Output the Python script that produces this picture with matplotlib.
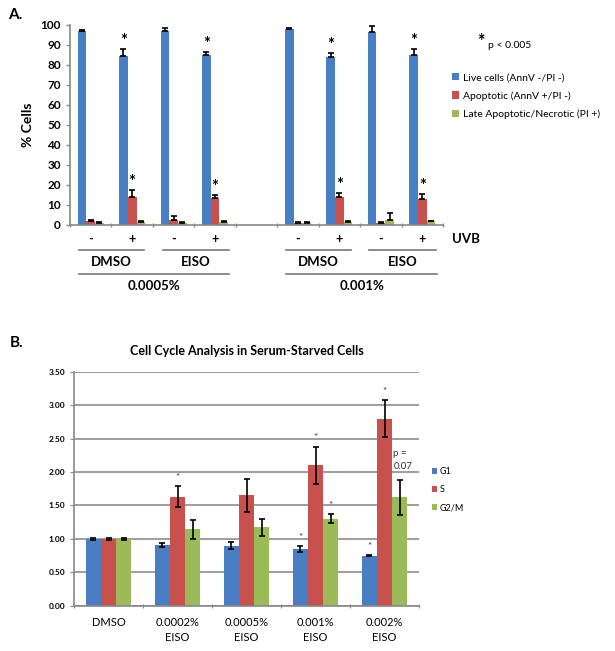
import numpy as np
import matplotlib
matplotlib.use("Agg")
import matplotlib.pyplot as plt

plt.rcParams['font.family'] = ['Lato', 'DejaVu Sans']

# ---------------- panel A data ----------------
uvb = ['-', '+', '-', '+', '', '-', '+', '-', '+']
live = [97.0, 84.5, 97.0, 85.0, np.nan, 98.0, 84.0, 96.3, 85.0]
live_err = [0.5, 3.5, 1.5, 1.5, np.nan, 0.3, 2.0, 3.0, 3.2]
apop = [2.0, 14.0, 2.3, 13.5, np.nan, 1.2, 14.2, 1.0, 12.8]
apop_err = [0.7, 3.5, 2.0, 1.5, np.nan, 0.3, 2.0, 0.3, 2.7]
necro = [1.2, 1.5, 1.2, 1.5, np.nan, 1.0, 1.5, 2.5, 1.8]
necro_err = [0.3, 0.3, 0.3, 0.3, np.nan, 0.5, 0.3, 3.5, 0.3]
star_live = [1, 3, 6, 8]
star_apop = [1, 3, 6, 8]
treat_labels = ['DMSO', 'EISO', 'DMSO', 'EISO']
conc_labels = ['0.0005%', '0.001%']

# ---------------- panel B data ----------------
groups_b = ['DMSO', '0.0002%\nEISO', '0.0005%\nEISO', '0.001%\nEISO', '0.002%\nEISO']
g1 = [1.00, 0.91, 0.90, 0.85, 0.75]
g1_err = [0.01, 0.03, 0.05, 0.04, 0.01]
s_ph = [1.00, 1.63, 1.65, 2.10, 2.80]
s_err = [0.01, 0.16, 0.25, 0.28, 0.27]
g2m = [1.00, 1.14, 1.17, 1.30, 1.62]
g2m_err = [0.01, 0.14, 0.12, 0.07, 0.26]

blue = '#4A7EC4'
red = '#C8504D'
green = '#9BBB59'

fig = plt.figure(figsize=(6.15, 6.51), dpi=100)
W, H = 615.0, 651.0

def px_axes(x0, y_top, x1, y_bot):
    return fig.add_axes([x0 / W, 1 - y_bot / H, (x1 - x0) / W, (y_bot - y_top) / H])

# ===================== Panel A =====================
axA = px_axes(70, 25, 443, 225)
x = np.arange(len(uvb)) + 0.5
bw = 0.21
ek = dict(ecolor='black', elinewidth=1.2, capsize=2.5, capthick=1.2)
zero = np.zeros(len(uvb))
axA.bar(x - bw, live, bw, color=blue, yerr=[zero, live_err], error_kw=ek, label='Live cells (AnnV -/PI -)')
axA.bar(x, apop, bw, color=red, yerr=[zero, apop_err], error_kw=ek, label='Apoptotic (AnnV +/PI -)')
axA.bar(x + bw, necro, bw, color=green, yerr=[zero, necro_err], error_kw=ek, label='Late Apoptotic/Necrotic (PI +)')
for i in star_live:
    axA.text(x[i] - bw, live[i] + live_err[i] + 4, '*', ha='center', va='center', fontsize=12, fontweight='bold')
for i in star_apop:
    axA.text(x[i], apop[i] + apop_err[i] + 4, '*', ha='center', va='center', fontsize=12, fontweight='bold')

axA.set_xlim(0, len(uvb))
axA.set_ylim(0, 100)
axA.set_yticks(np.arange(0, 101, 10))
axA.set_xticks(np.arange(0, len(uvb) + 1))
axA.set_xticklabels([])
axA.tick_params(axis='y', labelsize=8.5, length=3, color='#888888', width=1)
axA.tick_params(axis='x', length=3, color='#888888', width=1, direction='inout')
for lab in axA.get_yticklabels():
    lab.set_fontweight('bold')
for sp in ['top', 'right']:
    axA.spines[sp].set_visible(False)
for sp in ['left', 'bottom']:
    axA.spines[sp].set_color('#888888')
    axA.spines[sp].set_linewidth(1.2)
axA.set_ylabel('% Cells', fontsize=10, fontweight='bold', labelpad=5)

tr = axA.get_xaxis_transform()
for xi, lab in zip(x, uvb):
    axA.text(xi, -0.07, lab, transform=tr, ha='center', va='center', fontsize=9, fontweight='bold')
axA.text(9.55, -0.07, 'UVB', transform=tr, ha='center', va='center', fontsize=9.5, fontweight='bold')

treat_spans = [(0.22, 1.79), (2.25, 3.84), (5.22, 6.78), (7.22, 8.82)]
for (a, b), lab in zip(treat_spans, treat_labels):
    axA.plot([a, b], [-0.125, -0.125], transform=tr, color='#777777', lw=1.2, clip_on=False)
    axA.text((a + b) / 2, -0.185, lab, transform=tr, ha='center', va='center', fontsize=9.5, fontweight='bold')
conc_spans = [(0.22, 3.84), (5.22, 8.86)]
for (a, b), lab in zip(conc_spans, conc_labels):
    axA.plot([a, b], [-0.245, -0.245], transform=tr, color='#777777', lw=1.2, clip_on=False)
    axA.text((a + b) / 2, -0.305, lab, transform=tr, ha='center', va='center', fontsize=9.5, fontweight='bold')

fig.text(8 / W, 1 - 15 / H, 'A.', fontsize=11, fontweight='bold', va='center')
fig.text(477 / W, 1 - 41 / H, '*', fontsize=13, fontweight='bold', va='center')
fig.text(488 / W, 1 - 45 / H, 'p < 0.005', fontsize=7.5, va='center')
axA.legend(loc='upper left', bbox_to_anchor=(452 / W, 1 - 73 / H), bbox_transform=fig.transFigure,
           frameon=False, fontsize=7.5, handlelength=0.7, handleheight=0.7, handletextpad=0.4,
           labelspacing=0.85, borderaxespad=0, borderpad=0)

# ===================== Panel B =====================
axB = px_axes(74, 371.7, 419, 605.7)
xb = np.arange(len(groups_b)) + 0.5
bwb = 0.22
ekb = dict(ecolor='black', elinewidth=1.2, capsize=2.5, capthick=1.2)
axB.bar(xb - bwb, g1, bwb, color=blue, yerr=g1_err, error_kw=ekb, label='G1', zorder=2)
axB.bar(xb, s_ph, bwb, color=red, yerr=s_err, error_kw=ekb, label='S', zorder=2)
axB.bar(xb + bwb, g2m, bwb, color=green, yerr=g2m_err, error_kw=ekb, label='G2/M', zorder=2)

stars_b = [(1, 0), (3, -1), (3, 0), (3, 1), (4, -1), (4, 0)]
vals = {-1: (g1, g1_err), 0: (s_ph, s_err), 1: (g2m, g2m_err)}
for gi, off in stars_b:
    v, e = vals[off]
    axB.text(xb[gi] + off * bwb, v[gi] + e[gi] + 0.13, '*', ha='center', va='center', fontsize=7, color='#333333')
axB.text(xb[4] + 0.13, 2.28, 'p =', fontsize=7, va='center', ha='left', color='#333333')
axB.text(xb[4] + 0.13, 2.08, '0.07', fontsize=7, va='center', ha='left', color='#333333')

axB.set_xlim(0, len(groups_b))
axB.set_ylim(0, 3.5)
axB.set_yticks(np.arange(0, 3.51, 0.5))
axB.set_yticklabels(['%.2f' % v for v in np.arange(0, 3.51, 0.5)])
axB.yaxis.grid(True, color='#8C8C8C', lw=1.2, zorder=0)
axB.set_axisbelow(True)
axB.set_xticks(np.arange(0, len(groups_b) + 1))
axB.set_xticklabels([])
axB.set_xticks(xb, minor=True)
axB.set_xticklabels(groups_b, minor=True, fontsize=8, linespacing=1.5)
axB.tick_params(axis='x', which='minor', length=0, pad=8)
axB.tick_params(axis='x', which='major', length=3, color='#888888', direction='inout')
axB.tick_params(axis='y', labelsize=6, length=3, color='#888888')
for lab in axB.get_yticklabels():
    lab.set_fontweight('bold')
for sp in ['top', 'right']:
    axB.spines[sp].set_visible(False)
for sp in ['left', 'bottom']:
    axB.spines[sp].set_color('#888888')
    axB.spines[sp].set_linewidth(1.2)
axB.set_title('Cell Cycle Analysis in Serum-Starved Cells', fontsize=9, fontweight='bold', pad=12)
fig.text(10 / W, 1 - 343 / H, 'B.', fontsize=11, fontweight='bold', va='center')
axB.legend(loc='upper left', bbox_to_anchor=(432 / W, 1 - 467 / H), bbox_transform=fig.transFigure,
           frameon=False, fontsize=6.5, handlelength=0.6, handleheight=0.6, handletextpad=0.3,
           labelspacing=1.0, borderaxespad=0, borderpad=0)

fig.savefig('out.png', dpi=100)
